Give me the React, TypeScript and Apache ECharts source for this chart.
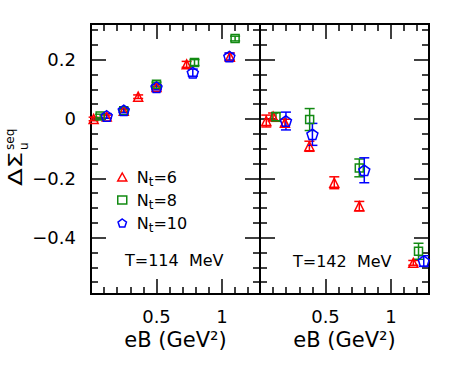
import React, { useEffect, useRef } from "react";
import * as echarts from "echarts";

// ---- data ----
// T = 114 MeV panel
const eB114_nt6 = [0.02, 0.12, 0.25, 0.36, 0.5, 0.73, 1.06];
const val114_nt6 = [0.0, 0.008, 0.028, 0.075, 0.108, 0.184, 0.21];
const err114_nt6 = [0.006, 0.005, 0.005, 0.006, 0.008, 0.01, 0.012];

const eB114_nt8 = [0.07, 0.25, 0.5, 0.79, 1.1];
const val114_nt8 = [0.01, 0.028, 0.117, 0.19, 0.271];
const err114_nt8 = [0.006, 0.006, 0.007, 0.01, 0.008];

const eB114_nt10 = [0.12, 0.25, 0.5, 0.777, 1.056];
const val114_nt10 = [0.01, 0.029, 0.107, 0.156, 0.21];
const err114_nt10 = [0.008, 0.008, 0.009, 0.012, 0.012];

// T = 142 MeV panel
const eB142_nt6 = [0.048, 0.1, 0.19, 0.377, 0.567, 0.758, 1.17];
const val142_nt6 = [-0.007, 0.008, -0.013, -0.092, -0.215, -0.294, -0.485];
const err142_nt6 = [0.02, 0.012, 0.012, 0.017, 0.02, 0.016, 0.008];

const eB142_nt8 = [0.122, 0.379, 0.758, 1.21];
const val142_nt8 = [0.007, -0.002, -0.165, -0.446];
const err142_nt8 = [0.015, 0.037, 0.03, 0.027];

const eB142_nt10 = [0.198, 0.4, 0.796, 1.25];
const val142_nt10 = [-0.007, -0.052, -0.173, -0.479];
const err142_nt10 = [0.03, 0.037, 0.042, 0.018];

// ---- axes ----
const X_MIN = 0;
const X_MAX = 1.29;
const Y_MIN = -0.59;
const Y_MAX = 0.32;
const X_MAJOR = [0.5, 1];
const X_MINOR = [0.1, 0.2, 0.3, 0.4, 0.6, 0.7, 0.8, 0.9, 1.1, 1.2];
const Y_MAJOR = [-0.4, -0.2, 0, 0.2];
const Y_MINOR = [-0.55, -0.5, -0.45, -0.35, -0.3, -0.25, -0.15, -0.1, -0.05, 0.05, 0.1, 0.15, 0.25, 0.3];

const SERIES_NAMES = ["Nt=6", "Nt=8", "Nt=10"];
const COLORS = ["#ff0000", "#128a12", "#0000ff"];
const PANEL_LABELS = ["T=114  MeV", "T=142  MeV"];
const X_NAME = "eB (GeV²)";

const FONT = "DejaVu Sans";
const PENTAGON = "path://M0,-1 L0.951,-0.309 L0.588,0.809 L-0.588,0.809 L-0.951,-0.309 Z";
const SYMBOLS = ["triangle", "rect", PENTAGON];
const SYMBOL_SIZES = [9, 8, 11];

const fmt = (v: number) => (v < 0 ? "\u2212" + String(Math.abs(v)) : String(v));

function makeXAxes(gridIndex: number) {
  const base = {
    type: "value" as const,
    gridIndex,
    min: X_MIN,
    max: X_MAX,
    splitLine: { show: false },
    axisLine: { show: true, onZero: false, lineStyle: { color: "#000", width: 2 } },
  };
  const tickStyle = { color: "#000", width: 1.5 };
  return [
    {
      ...base,
      position: "bottom",
      axisTick: { show: true, inside: true, length: 15, customValues: X_MAJOR, lineStyle: tickStyle },
      axisLabel: {
        show: true,
        customValues: X_MAJOR,
        formatter: (v: number) => fmt(v),
        margin: 13,
        fontSize: 18,
        fontFamily: FONT,
        color: "#000",
      },
      name: X_NAME,
      nameLocation: "middle",
      nameGap: 35,
      nameTextStyle: { fontSize: 21, fontFamily: FONT, color: "#000" },
    },
    {
      ...base,
      position: "bottom",
      axisTick: { show: true, inside: true, length: 7, customValues: X_MINOR, lineStyle: tickStyle },
      axisLabel: { show: false },
    },
    {
      ...base,
      position: "top",
      axisTick: { show: true, inside: true, length: 15, customValues: X_MAJOR, lineStyle: tickStyle },
      axisLabel: { show: false },
    },
    {
      ...base,
      position: "top",
      axisTick: { show: true, inside: true, length: 7, customValues: X_MINOR, lineStyle: tickStyle },
      axisLabel: { show: false },
    },
  ];
}

function makeYAxes(gridIndex: number, labels: boolean) {
  const base = {
    type: "value" as const,
    gridIndex,
    min: Y_MIN,
    max: Y_MAX,
    splitLine: { show: false },
    axisLine: { show: true, onZero: false, lineStyle: { color: "#000", width: 2 } },
  };
  const tickStyle = { color: "#000", width: 1.5 };
  return [
    {
      ...base,
      position: "left",
      axisTick: { show: true, inside: true, length: 15, customValues: Y_MAJOR, lineStyle: tickStyle },
      axisLabel: labels
        ? {
            show: true,
            customValues: Y_MAJOR,
            formatter: (v: number) => fmt(v),
            margin: 15,
            fontSize: 18,
            fontFamily: FONT,
            color: "#000",
          }
        : { show: false },
    },
    {
      ...base,
      position: "left",
      axisTick: { show: true, inside: true, length: 7, customValues: Y_MINOR, lineStyle: tickStyle },
      axisLabel: { show: false },
    },
    {
      ...base,
      position: "right",
      axisTick: { show: true, inside: true, length: 15, customValues: Y_MAJOR, lineStyle: tickStyle },
      axisLabel: { show: false },
    },
    {
      ...base,
      position: "right",
      axisTick: { show: true, inside: true, length: 7, customValues: Y_MINOR, lineStyle: tickStyle },
      axisLabel: { show: false },
    },
  ];
}

function zip3(a: number[], b: number[], c: number[]) {
  return a.map((x, i) => [x, b[i], c[i]]);
}

const errorBarRender = (params: any, api: any) => {
  const x = api.value(0);
  const y = api.value(1);
  const e = api.value(2);
  const top = api.coord([x, y + e]);
  const bot = api.coord([x, y - e]);
  const hw = 5;
  const style = { stroke: api.visual("color"), lineWidth: 1.5 };
  return {
    type: "group",
    children: [
      { type: "line", shape: { x1: top[0], y1: top[1], x2: bot[0], y2: bot[1] }, style },
      { type: "line", shape: { x1: top[0] - hw, y1: top[1], x2: top[0] + hw, y2: top[1] }, style },
      { type: "line", shape: { x1: bot[0] - hw, y1: bot[1], x2: bot[0] + hw, y2: bot[1] }, style },
    ],
  };
};

export default function App() {
  const ref = useRef<HTMLDivElement>(null);

  useEffect(() => {
    if (!ref.current) return;
    const chart = echarts.init(ref.current, undefined, { renderer: "svg" });

    const panels = [
      [
        zip3(eB114_nt6, val114_nt6, err114_nt6),
        zip3(eB114_nt8, val114_nt8, err114_nt8),
        zip3(eB114_nt10, val114_nt10, err114_nt10),
      ],
      [
        zip3(eB142_nt6, val142_nt6, err142_nt6),
        zip3(eB142_nt8, val142_nt8, err142_nt8),
        zip3(eB142_nt10, val142_nt10, err142_nt10),
      ],
    ];

    const series: any[] = [];
    panels.forEach((sets, p) => {
      sets.forEach((data, k) => {
        series.push({
          type: "scatter",
          name: SERIES_NAMES[k],
          xAxisIndex: p * 4,
          yAxisIndex: p * 4,
          symbol: SYMBOLS[k],
          symbolSize: SYMBOL_SIZES[k],
          symbolKeepAspect: true,
          itemStyle: { color: "rgba(255,255,255,0)", borderColor: COLORS[k], borderWidth: 1.5, opacity: 1 },
          data: data.map((d) => [d[0], d[1]]),
          z: 3,
        });
      });
      sets.forEach((data, k) => {
        series.push({
          type: "custom",
          name: SERIES_NAMES[k] + " error",
          xAxisIndex: p * 4,
          yAxisIndex: p * 4,
          renderItem: errorBarRender,
          itemStyle: { color: COLORS[k] },
          encode: { x: 0, y: 1 },
          data,
          z: 2,
          silent: true,
        });
      });
    });

    chart.setOption({
      animation: false,
      backgroundColor: "#fff",
      textStyle: { fontFamily: FONT },
      grid: [
        { left: 91, top: 24, width: 169, height: 270 },
        { left: 260, top: 24, width: 169, height: 270 },
      ],
      xAxis: [...makeXAxes(0), ...makeXAxes(1)],
      yAxis: [...makeYAxes(0, true), ...makeYAxes(1, false)],
      legend: {
        data: SERIES_NAMES.map((n, k) => ({
          name: n,
          icon: SYMBOLS[k],
          itemStyle: { color: "rgba(255,255,255,0)", borderColor: COLORS[k], borderWidth: 1.5 },
        })),
        orient: "vertical",
        left: 112,
        top: 164,
        itemGap: 4,
        itemWidth: 9,
        itemHeight: 8,
        selectedMode: false,
        formatter: (name: string) => `{n|N}{t|t}{n|${name.slice(2)}}`,
        textStyle: {
          padding: [0, 0, 0, 5],
          rich: {
            n: { fontSize: 16, lineHeight: 22, fontFamily: FONT, color: "#000" },
            t: { fontSize: 12, lineHeight: 10, verticalAlign: "bottom", fontFamily: FONT, color: "#000" },
          },
        },
      },
      graphic: [
        {
          type: "text",
          left: 125,
          top: 252,
          style: { text: PANEL_LABELS[0], fontSize: 16, fontFamily: FONT, fill: "#000" },
        },
        {
          type: "text",
          left: 293,
          top: 253,
          style: { text: PANEL_LABELS[1], fontSize: 16, fontFamily: FONT, fill: "#000" },
        },
        {
          type: "group",
          x: 22,
          y: 186,
          rotation: Math.PI / 2,
          children: [
            {
              type: "text",
              x: 0,
              y: -7,
              scaleX: 1.3,
              style: { text: "ΔΣ", fontSize: 20, fontFamily: FONT, fill: "#000", align: "left", verticalAlign: "middle" },
            },
            {
              type: "text",
              x: 36,
              y: 2,
              style: { text: "u", fontSize: 12, fontFamily: FONT, fill: "#000", align: "left", verticalAlign: "middle" },
            },
            {
              type: "text",
              x: 36,
              y: -12,
              style: { text: "seq", fontSize: 12, fontFamily: FONT, fill: "#000", align: "left", verticalAlign: "middle" },
            },
          ],
        },
      ],
      series,
    });

    return () => chart.dispose();
  }, []);

  return (
    <div
      ref={ref}
      style={{ position: "fixed", left: 0, top: 0, width: 453, height: 375, background: "#fff" }}
    />
  );
}
